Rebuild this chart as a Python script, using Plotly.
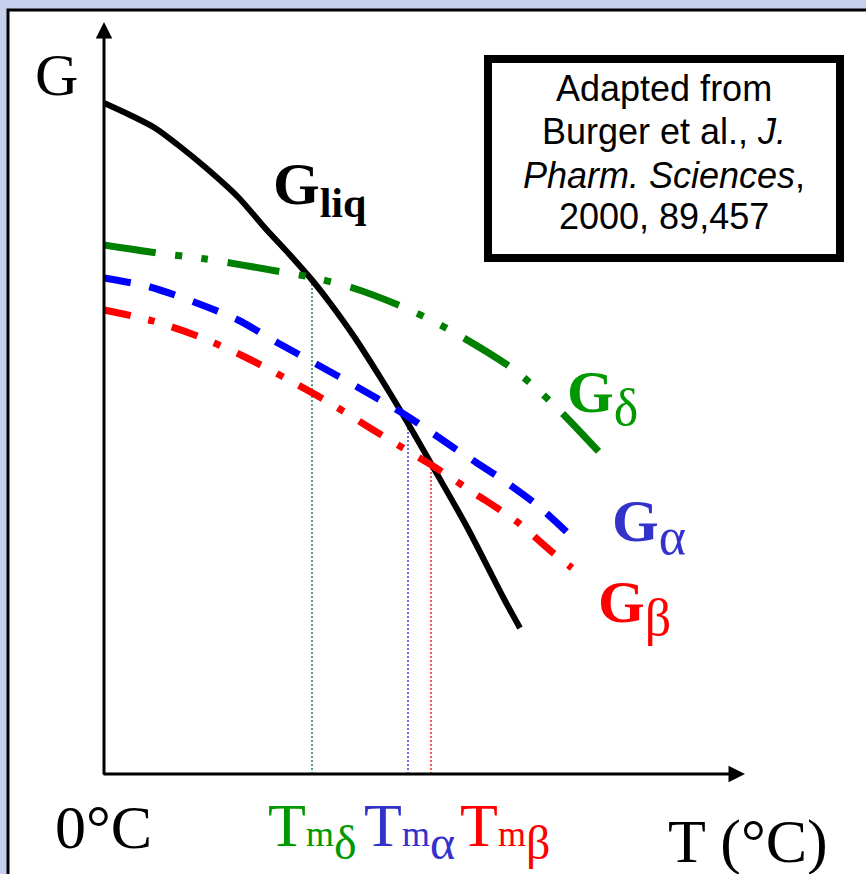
import numpy as np
import plotly.graph_objects as go

# ---------------- data (arbitrary schematic units: T from axis origin, G above T-axis) -------------
liq_T = [0, 26, 51, 74, 101, 134, 161, 186, 208, 226, 249, 276, 302, 329, 363, 399, 416]
liq_G = [671, 659, 646, 629, 607, 577, 546, 519, 494, 471, 439, 397, 354, 307, 247, 177, 146]

delta_T = [0, 53, 102, 178, 206, 249, 299, 344, 409, 448, 496]
delta_G = [529, 521, 515, 502, 497, 486, 467, 445, 405, 371, 321]

alpha_T = [0, 46, 90, 134, 174, 214, 255, 303, 356, 396, 433, 468]
alpha_G = [496, 487, 472, 454, 431, 409, 386, 358, 322, 296, 269, 237]

beta_T = [0, 49, 96, 139, 183, 226, 266, 309, 329, 370, 412, 448, 468]
beta_G = [464, 453, 437, 418, 395, 371, 346, 320, 308, 281, 253, 222, 206]

Tm_values = {"delta": 208, "alpha": 304, "beta": 327}

box_lines = ["Adapted from", "Burger et al., <i>J.</i>", "<i>Pharm. Sciences</i>,", "2000, 89,457"]

# ---------------- layout helpers -------------
W, H = 866, 874
X0, Y0 = 104, 774          # pixel position of the origin of the schematic axes


def px(x):
    return x - X0


def py(y):
    return Y0 - y


GREEN_L, BLUE_L, RED_L = "#008000", "#0000ff", "#ff0000"
GREEN_T, BLUE_T, RED_T = "#009900", "#3333cc", "#ff0000"
SERIF = "Liberation Serif, Times New Roman, serif"
SANS = "Liberation Sans, Arial, sans-serif"

fig = go.Figure()

# vertical dotted melting-point lines (from the T axis up to the crossing with G_liq)
for key, col in [("delta", "#2e8b57"), ("alpha", "#4a4ae0"), ("beta", "#ff3333")]:
    t = Tm_values[key]
    gtop = float(np.interp(t, liq_T, liq_G))
    fig.add_trace(go.Scatter(x=[t, t], y=[0, gtop], mode="lines",
                             line=dict(color=col, width=1.6, dash="2px,2px"),
                             hoverinfo="skip", showlegend=False))

# liquid curve
fig.add_trace(go.Scatter(x=liq_T, y=liq_G, mode="lines",
                         line=dict(color="black", width=6, shape="spline", smoothing=0.8),
                         showlegend=False))
# polymorph curves
fig.add_trace(go.Scatter(x=delta_T, y=delta_G, mode="lines",
                         line=dict(color=GREEN_L, width=7, shape="spline", smoothing=0.8,
                                   dash="52px,20px,7px,19px,7px,20px"),
                         showlegend=False))
fig.add_trace(go.Scatter(x=alpha_T, y=alpha_G, mode="lines",
                         line=dict(color=BLUE_L, width=7, shape="spline", smoothing=0.8,
                                   dash="27px,19px"),
                         showlegend=False))
fig.add_trace(go.Scatter(x=beta_T, y=beta_G, mode="lines",
                         line=dict(color=RED_L, width=7, shape="spline", smoothing=0.8,
                                   dash="27px,18px,7px,18px"),
                         showlegend=False))

shapes = [
    # white panel with black left/top border
    dict(type="rect", xref="x", yref="y", x0=px(8), x1=px(880), y0=py(10), y1=py(890),
         fillcolor="white", line=dict(color="black", width=3), layer="below"),
    # citation box
    dict(type="rect", xref="x", yref="y", x0=px(488), x1=px(840), y0=py(59), y1=py(258),
         fillcolor="white", line=dict(color="black", width=8), layer="above"),
]

ann = []
# axes with arrowheads
ann.append(dict(x=0, y=py(22), ax=0, ay=py(776), xref="x", yref="y", axref="x", ayref="y",
                text="", showarrow=True, arrowhead=2, arrowwidth=3, arrowsize=1.1,
                arrowcolor="black", standoff=0, startstandoff=0))
ann.append(dict(x=px(745), y=0, ax=px(102), ay=0, xref="x", yref="y", axref="x", ayref="y",
                text="", showarrow=True, arrowhead=2, arrowwidth=3, arrowsize=1.1,
                arrowcolor="black", standoff=0, startstandoff=0))


def label(text, left, top, size, color="black", family=SERIF, anchor="left"):
    ann.append(dict(x=px(left), y=py(top), xref="x", yref="y", text=text, showarrow=False,
                    xanchor=anchor, yanchor="top", font=dict(family=family, size=size, color=color)))


label("G", 33, 40, 60)
label("0°C", 53, 791, 62)
label("T (°C)", 666, 805, 62)

label("T<span style='font-size:36px'>m</span><sub><span style='font-size:48px'>δ</span></sub>", 266, 789, 62, GREEN_T)
label("T<span style='font-size:36px'>m</span><sub><span style='font-size:48px'>α</span></sub>", 362, 789, 62, BLUE_T)
label("T<span style='font-size:36px'>m</span><sub><span style='font-size:48px'>β</span></sub>", 458, 789, 62, RED_T)

label("<b>G<sub>liq</sub></b>", 271, 149, 60)
label("<b>G</b><sub><span style='font-size:52px'>δ</span></sub>", 565, 357, 60, GREEN_T)
label("<b>G</b><sub><span style='font-size:52px'>α</span></sub>", 610, 486, 60, BLUE_T)
label("<b>G</b><sub><span style='font-size:52px'>β</span></sub>", 596, 567, 60, RED_T)

baselines = [100, 143, 187, 228]
for txt, b in zip(box_lines, baselines):
    label(txt, 664, b - 34, 36, "black", SANS, anchor="center")

fig.update_layout(
    width=W, height=H, autosize=False,
    margin=dict(l=0, r=0, t=0, b=0, pad=0),
    paper_bgcolor="#c6cfee", plot_bgcolor="rgba(0,0,0,0)",
    xaxis=dict(range=[px(0), px(W)], visible=False, fixedrange=True),
    yaxis=dict(range=[py(H), py(0)], visible=False, fixedrange=True),
    shapes=shapes, annotations=ann, showlegend=False,
)

fig.write_html("out.html", config={"displayModeBar": False})
